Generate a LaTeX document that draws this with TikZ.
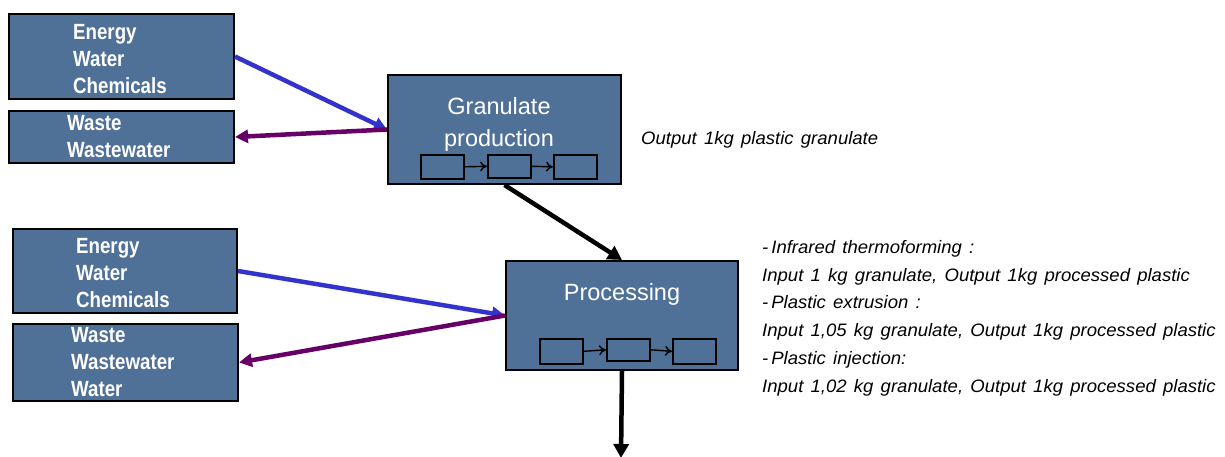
\documentclass[tikz,border=0pt]{standalone}
\usepackage{fontspec}
\setmainfont{Liberation Sans}
\newfontfamily\narbold[FakeStretch=0.85]{Liberation Sans Bold}
\newfontfamily\narit[FakeStretch=1.03,WordSpace=1.4]{Liberation Sans Italic}
\usetikzlibrary{arrows.meta}
\definecolor{boxfill}{RGB}{79,112,151}
\definecolor{inblue}{RGB}{51,51,204}
\definecolor{outpurple}{RGB}{102,0,102}
\begin{document}
\begin{tikzpicture}[x=1pt,y=-1pt,
  bigbox/.style={draw=black,line width=2pt,fill=boxfill,anchor=north west,inner sep=0pt},
  smallbox/.style={draw=black,line width=1.6pt,fill=boxfill,anchor=north west,inner sep=0pt,minimum width=43pt,minimum height=24pt},
  boxtext/.style={text=white,font=\narbold\fontsize{22}{27.3}\selectfont,align=left,anchor=north west,inner sep=0pt},
  proctext/.style={text=white,font=\fontsize{23.5}{32}\selectfont,align=center,inner sep=0pt},
  note/.style={font=\narit\fontsize{18}{27.8}\selectfont,align=left,anchor=north west,inner sep=0pt},
  inarrow/.style={draw=inblue,line width=4.5pt,-{Triangle[length=13pt,width=13pt]}},
  outarrow/.style={draw=outpurple,line width=4.5pt,-{Triangle[length=13pt,width=13pt]}},
  flowarrow/.style={draw=black,line width=4.5pt,-{Triangle[length=14pt,width=15pt]}},
  minarrow/.style={draw=black,line width=1.4pt,-{To[length=7pt,width=10pt]}}
]
\useasboundingbox (0,0) rectangle (1225,457);

% left boxes, top group
\node[bigbox,minimum width=225pt,minimum height=85pt] (A) at (8,13) {};
\node[boxtext] (At) at (73,24) {Energy\\Water\\Chemicals};
\node[bigbox,minimum width=225pt,minimum height=52pt] (B) at (8,110) {};
\node[boxtext] (Bt) at (67,115) {Waste\\Wastewater};

% granulate box
\node[bigbox,minimum width=233pt,minimum height=109pt] (G) at (387,74) {};
\node[proctext] (Gt) at (499,124) {Granulate\\production};
\node[smallbox] (g1) at (420,154) {};
\node[smallbox,minimum height=23pt] (g2) at (487,154) {};
\node[smallbox] (g3) at (553,154) {};
\draw[minarrow] (g1.east) -- (g2.west);
\draw[minarrow] (g2.east) -- (g3.west);

% left boxes, bottom group
\node[bigbox,minimum width=224pt,minimum height=84pt] (C) at (12,228) {};
\node[boxtext] (Ct) at (76,238) {Energy\\Water\\Chemicals};
\node[bigbox,minimum width=225pt,minimum height=77pt] (D) at (12,323) {};
\node[boxtext] (Dt) at (71,327) {Waste\\Wastewater\\Water};

% processing box
\node[bigbox,minimum width=232pt,minimum height=109pt] (P) at (505,260) {};
\node[proctext] (Pt) at (622,294) {Processing};
\node[smallbox,minimum height=25pt] (p1) at (539,338) {};
\node[smallbox,minimum height=22pt] (p2) at (606,338) {};
\node[smallbox,minimum height=25pt] (p3) at (672,338) {};
\draw[minarrow] (p1.east) -- (p2.west);
\draw[minarrow] (p2.east) -- (p3.west);

% connectors
\draw[inarrow] (A.east) -- (G.west);
\draw[outarrow] (G.west) -- (B.east);
\draw[inarrow] (C.east) -- (P.west);
\draw[outarrow] (P.west) -- (D.east);
\draw[flowarrow] (G.south) -- (P.north);
\coordinate (out) at (621,458);
\draw[flowarrow] (P.south) -- (out);

% notes
\node[note] (n1) at (641,131) {Output 1kg plastic granulate};
\node[note] (n2) at (762,240) {-\hspace{3pt}Infrared thermoforming :\\Input 1 kg granulate, Output 1kg processed plastic\\-\hspace{3pt}Plastic extrusion :\\Input 1,05 kg granulate, Output 1kg processed plastic\\-\hspace{3pt}Plastic injection:\\Input 1,02 kg granulate, Output 1kg processed plastic};
\end{tikzpicture}
\end{document}
